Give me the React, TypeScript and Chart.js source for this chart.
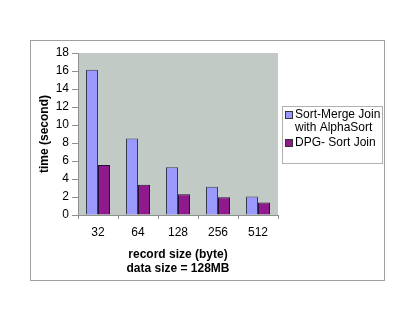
import React, { useEffect, useRef } from "react";
import { Chart, registerables } from "chart.js";

Chart.register(...registerables);

const categories = ["32", "64", "128", "256", "512"];
const sortMergeValues = [16.15, 8.5, 5.3, 3.15, 2.05];
const dpgSortValues = [5.55, 3.35, 2.3, 1.97, 1.38];
const seriesNames = [["Sort-Merge Join", "with AlphaSort"], ["DPG- Sort Join"]];
const yTicks = [0, 2, 4, 6, 8, 10, 12, 14, 16, 18];

const FONT = "'Liberation Sans', Arial, sans-serif";

const framePlugin = {
  id: "frame",
  beforeDraw(chart: any) {
    const { ctx, chartArea } = chart;
    ctx.save();
    ctx.fillStyle = "#ffffff";
    ctx.fillRect(0, 0, chart.width, chart.height);
    ctx.fillStyle = "#c2cac6";
    ctx.fillRect(chartArea.left, chartArea.top, chartArea.right - chartArea.left, chartArea.bottom - chartArea.top);
    ctx.restore();
  },
  afterDraw(chart: any) {
    const { ctx } = chart;
    ctx.save();
    ctx.strokeStyle = "#a0a0a0";
    ctx.lineWidth = 1;
    ctx.strokeRect(30.5, 40.5, 354, 240);
    // legend box
    ctx.strokeStyle = "#b0b0b0";
    ctx.strokeRect(282.5, 106.5, 100, 57);
    ctx.font = `12px ${FONT}`;
    ctx.textBaseline = "middle";
    let y = 115;
    chart.data.datasets.forEach((ds: any, i: number) => {
      ctx.fillStyle = ds.backgroundColor;
      ctx.fillRect(285.5, y - 3.5, 7, 7);
      ctx.strokeStyle = "#333333";
      ctx.strokeRect(285.5, y - 3.5, 7, 7);
      ctx.fillStyle = "#000000";
      seriesNames[i].forEach((line, j) => {
        ctx.fillText(line, 295, y + j * 13);
      });
      y += seriesNames[i].length * 13 + 2;
    });
    ctx.restore();
  },
};

export default function App() {
  const ref = useRef<HTMLCanvasElement>(null);
  useEffect(() => {
    const chart = new Chart(ref.current!, {
      type: "bar",
      data: {
        labels: categories,
        datasets: [
          {
            label: seriesNames[0].join(" "),
            data: sortMergeValues,
            backgroundColor: "#9999ff",
            borderColor: "#3c3c50",
            borderWidth: 1,
          },
          {
            label: seriesNames[1].join(" "),
            data: dpgSortValues,
            backgroundColor: "#8e1a8e",
            borderColor: "#2a1030",
            borderWidth: 1,
          },
        ],
      },
      options: {
        responsive: false,
        animation: false,
        layout: { padding: { left: 30, right: 137, top: 53, bottom: 41 } },
        plugins: { legend: { display: false }, tooltip: { enabled: false } },
        datasets: { bar: { categoryPercentage: 0.6, barPercentage: 1.0 } },
        scales: {
          x: {
            grid: {
              offset: true,
              drawOnChartArea: false,
              color: "#909090",
              tickLength: 4,
            },
            border: { color: "#909090" },
            ticks: { color: "#000", font: { family: FONT, size: 12 }, padding: 6 },
            title: {
              display: true,
              text: ["record size (byte)", "data size = 128MB"],
              color: "#000",
              font: { family: FONT, size: 12, weight: "bold" },
              padding: { top: 4 },
            },
            afterFit(scale: any) {
              scale.height = 65;
            },
          },
          y: {
            min: 0,
            max: 18,
            afterBuildTicks(scale: any) {
              scale.ticks = yTicks.map((v) => ({ value: v }));
            },
            grid: { drawOnChartArea: false, color: "#909090", tickLength: 6 },
            border: { color: "#909090" },
            ticks: { color: "#000", font: { family: FONT, size: 12 }, padding: 3 },
            title: {
              display: true,
              text: "time (second)",
              color: "#000",
              font: { family: FONT, size: 12, weight: "bold" },
              padding: { top: 7, bottom: 4 },
            },
            afterFit(scale: any) {
              scale.width = 48;
            },
          },
        },
      },
      plugins: [framePlugin],
    });
    return () => chart.destroy();
  }, []);
  return (
    <div style={{ position: "absolute", left: 0, top: 0, width: 415, height: 321 }}>
      <canvas ref={ref} width={415} height={321} />
    </div>
  );
}
